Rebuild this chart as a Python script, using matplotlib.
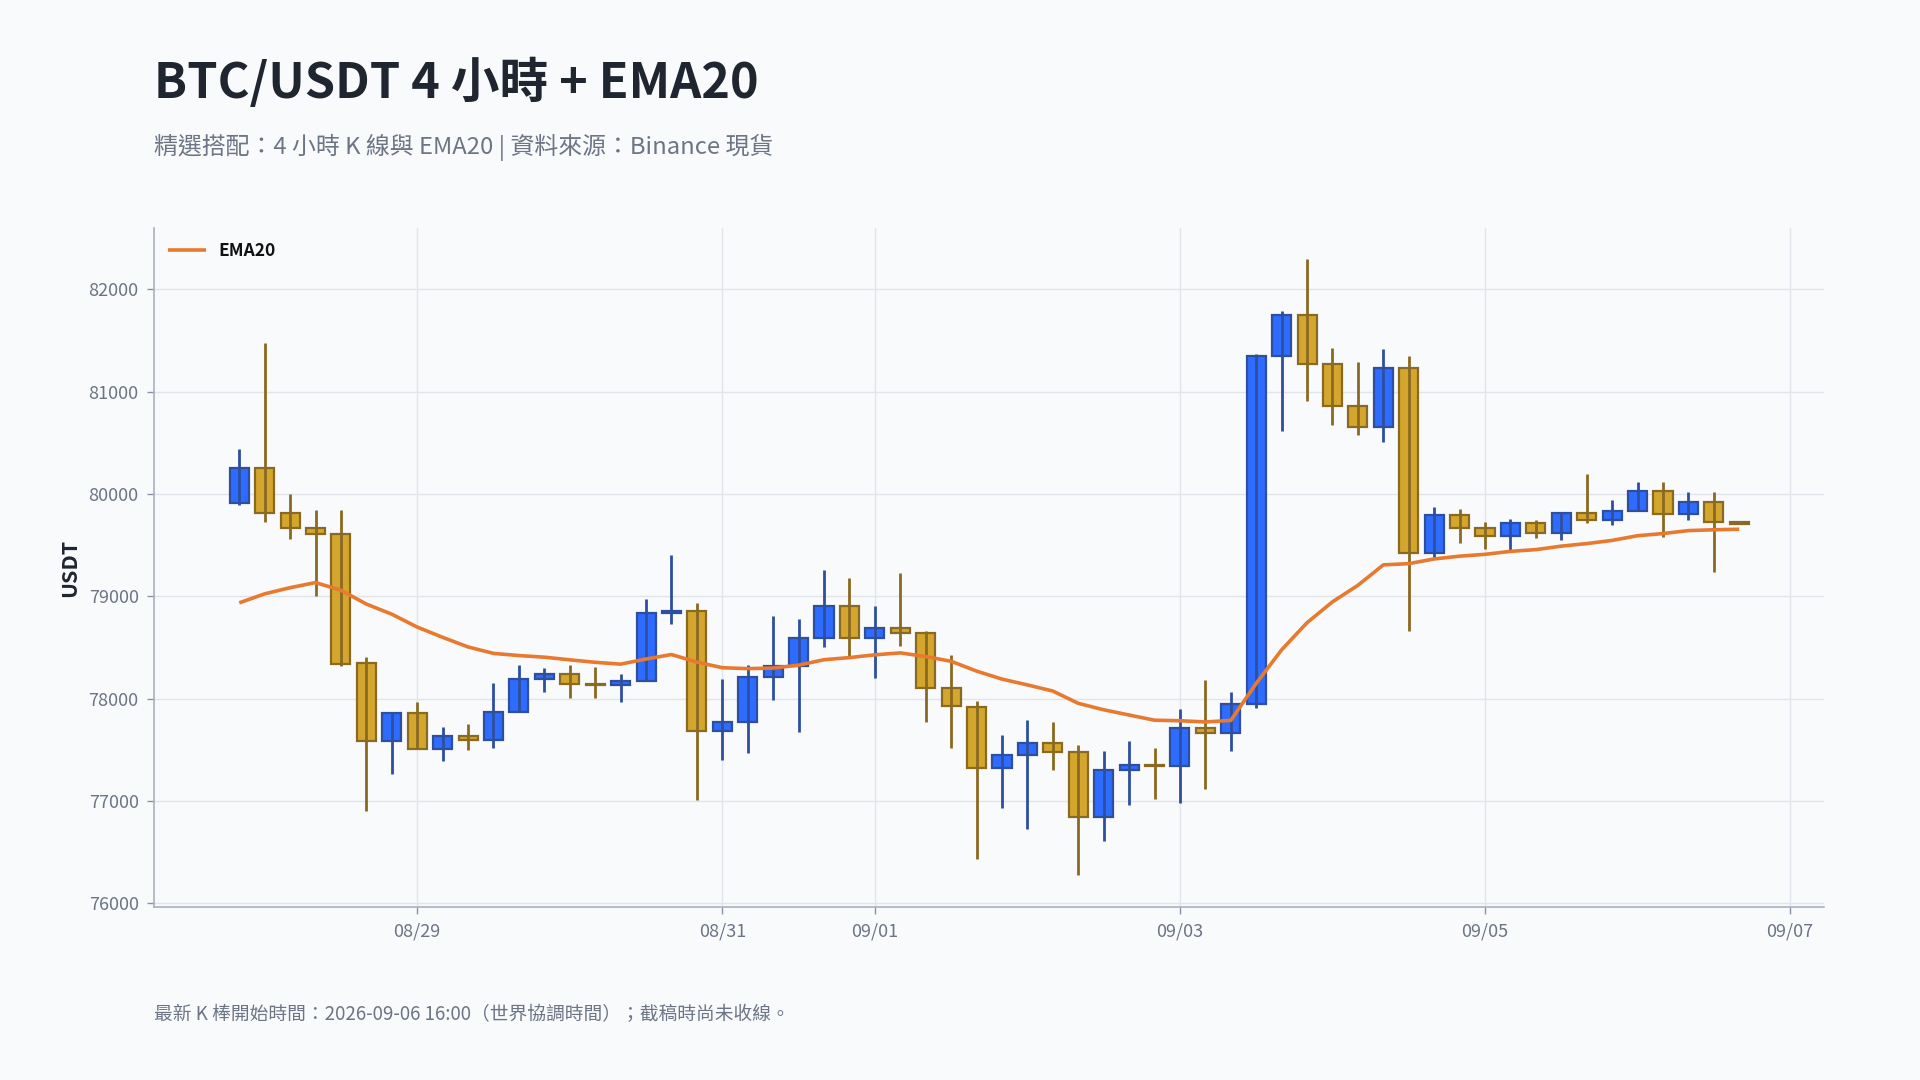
import matplotlib
matplotlib.use("Agg")
import matplotlib.dates as mdates
import matplotlib.pyplot as plt
import numpy as np
import pandas as pd


FIRST_BAR = "2026-08-27 20:00"
BAR_HOURS = 4

OPENS = [
    79913, 80254, 79815, 79669, 79610, 78345, 77589, 77857, 77513, 77634,
    77595, 77875, 78188, 78241, 78147, 78130, 78178, 78833, 78861, 77687,
    77770, 78209, 78324, 78593, 78910, 78589, 78687, 78640, 78108, 77924,
    77321, 77446, 77572, 77481, 76840, 77300, 77349, 77340, 77716, 77669,
    77951, 81351, 81753, 81275, 80857, 80658, 81228, 79428, 79795, 79667,
    79588, 79719, 79615, 79818, 79751, 79838, 80029, 79810, 79922, 79723,
]
HIGHS = [
    80436, 81481, 80000, 79843, 79843, 78408, 77857, 77969, 77725, 77756,
    78157, 78331, 78303, 78331, 78310, 78244, 78976, 79404, 78937, 78195,
    78331, 78809, 78781, 79258, 79181, 78906, 79230, 78659, 78425, 77979,
    77648, 77795, 77774, 77547, 77492, 77589, 77517, 77896, 78182, 78067,
    81371, 81789, 82299, 81431, 81295, 81419, 81351, 79878, 79858, 79723,
    79759, 79743, 79826, 80193, 79946, 80113, 80113, 80021, 80018, 79725,
]
LOWS = [
    79895, 79728, 79565, 79007, 78324, 76903, 77262, 77513, 77387, 77495,
    77516, 77875, 78070, 78004, 78004, 77972, 78175, 78735, 77007, 77398,
    77467, 77990, 77676, 78506, 78408, 78199, 78512, 77770, 77516, 76430,
    76931, 76725, 77300, 76275, 76614, 76959, 77020, 76980, 77119, 77489,
    77908, 80619, 80909, 80674, 80575, 80507, 78664, 79380, 79520, 79468,
    79456, 79568, 79548, 79719, 79695, 79834, 79580, 79751, 79241, 79708,
]
CLOSES = [
    80254, 79815, 79669, 79610, 78342, 77589, 77857, 77513, 77634, 77595,
    77875, 78188, 78241, 78147, 78130, 78178, 78833, 78861, 77687, 77770,
    78209, 78324, 78593, 78910, 78589, 78687, 78640, 78108, 77927, 77321,
    77446, 77572, 77481, 76840, 77300, 77349, 77340, 77716, 77669, 77951,
    81351, 81753, 81275, 80857, 80658, 81228, 79428, 79795, 79667, 79588,
    79719, 79615, 79818, 79751, 79838, 80029, 79810, 79922, 79723, 79712,
]
# EMA20 as drawn on the reference chart
EMA20 = [
    78937, 79025, 79085, 79135, 79060, 78925, 78826, 78700, 78600, 78506,
    78443, 78422, 78406, 78380, 78356, 78338, 78388, 78432, 78358, 78303,
    78294, 78300, 78328, 78381, 78402, 78429, 78448, 78412, 78366, 78270,
    78192, 78135, 78075, 77955, 77892, 77841, 77790, 77785, 77773, 77788,
    78150, 78478, 78743, 78947, 79108, 79308, 79320, 79366, 79393, 79411,
    79440, 79457, 79491, 79516, 79547, 79593, 79614, 79643, 79651, 79656,
]

X_TICKS = ["2026-08-29", "2026-08-31", "2026-09-01", "2026-09-03", "2026-09-05", "2026-09-07"]
Y_TICKS = [76000, 77000, 78000, 79000, 80000, 81000, 82000]
X_RANGE = ("2026-08-27 06:35", "2026-09-07 05:20")
Y_RANGE = (75965, 82600)

TITLE = "BTC/USDT 4 小時 + EMA20"
SUBTITLE = "精選搭配：4 小時 K 線與 EMA20 | 資料來源：Binance 現貨"
FOOTNOTE = "最新 K 棒開始時間：2026-09-06 16:00（世界協調時間）；截稿時尚未收線。"

BG = "#F9FAFC"
UP_FACE, UP_EDGE = "#2E6BFF", "#2D4F9E"
DOWN_FACE, DOWN_EDGE = "#D4A62E", "#8A6A22"
EMA_COLOR = "#E87A30"
GRID = "#E1E4EA"
MUTED = "#6B7585"
DARK = "#1F2630"


def main():
    plt.rcParams["font.family"] = ["Noto Sans CJK TC", "DejaVu Sans"]

    times = pd.date_range(FIRST_BAR, periods=len(OPENS), freq=f"{BAR_HOURS}h")
    x = mdates.date2num(times.to_pydatetime())
    opens = np.asarray(OPENS, dtype=float)
    closes = np.asarray(CLOSES, dtype=float)
    highs = np.asarray(HIGHS, dtype=float)
    lows = np.asarray(LOWS, dtype=float)
    up = closes >= opens

    fig = plt.figure(figsize=(19.2, 10.8), dpi=100, facecolor=BG)
    ax = fig.add_axes([0.0802, 0.1602, 0.8698, 0.6287], facecolor=BG)

    width = BAR_HOURS / 24 * 0.75
    face = np.where(up, UP_FACE, DOWN_FACE)
    edge = np.where(up, UP_EDGE, DOWN_EDGE)
    body_low = np.minimum(opens, closes)
    body_h = np.maximum(np.abs(closes - opens), 8)
    ax.bar(x, body_h, bottom=body_low, width=width, color=face, edgecolor=edge,
           linewidth=1.6, zorder=3)
    ax.vlines(x, lows, highs, colors=edge, linewidth=2.0, zorder=4)

    ax.plot(x, EMA20, color=EMA_COLOR, linewidth=2.6, label="EMA20", zorder=5,
            solid_capstyle="butt")

    ax.set_xlim(mdates.date2num(pd.Timestamp(X_RANGE[0])), mdates.date2num(pd.Timestamp(X_RANGE[1])))
    ax.set_ylim(*Y_RANGE)
    ax.set_xticks(mdates.date2num(pd.to_datetime(X_TICKS).to_pydatetime()))
    ax.xaxis.set_major_formatter(mdates.DateFormatter("%m/%d"))
    ax.set_yticks(Y_TICKS)
    ax.set_yticklabels([str(v) for v in Y_TICKS])

    ax.grid(True, color=GRID, linewidth=1.0, zorder=0)
    ax.set_axisbelow(True)
    for side in ("top", "right"):
        ax.spines[side].set_visible(False)
    for side in ("left", "bottom"):
        ax.spines[side].set_color("#A9B0BE")
        ax.spines[side].set_linewidth(1.2)
    ax.tick_params(axis="both", colors="#8A93A3", labelcolor=MUTED, labelsize=13,
                   length=5, width=1.0, pad=6)

    ax.set_ylabel("USDT", fontsize=15.5, fontweight="bold", color=DARK)
    ax.yaxis.set_label_coords(-0.044, 0.5)

    leg = ax.legend(loc="upper left", frameon=False, fontsize=12.5, handlelength=2.2,
                    borderaxespad=0.4, handletextpad=0.7)
    for txt in leg.get_texts():
        txt.set_fontweight("bold")
        txt.set_color("#111111")

    fig.text(0.0802, 0.923, TITLE, fontsize=35, fontweight="bold", color=DARK,
             ha="left", va="center")
    fig.text(0.0802, 0.863, SUBTITLE, fontsize=17.2, color=MUTED, ha="left", va="center")
    fig.text(0.0802, 0.061, FOOTNOTE, fontsize=13.5, color=MUTED, ha="left", va="center")

    fig.savefig("out.png", dpi=100, facecolor=BG)
    plt.close(fig)


if __name__ == "__main__":
    main()
